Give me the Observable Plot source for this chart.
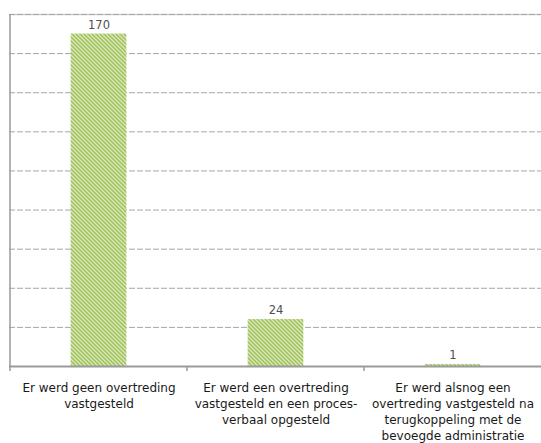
<!DOCTYPE html>
<html>
<head>
<meta charset="utf-8">
<script src="https://cdn.jsdelivr.net/npm/d3@7"></script>
<script src="https://cdn.jsdelivr.net/npm/@observablehq/plot@0.6"></script>
<style>
  html, body { margin: 0; padding: 0; background: #fff; }
  #chart svg { display: block; }
</style>
</head>
<body>
<div id="chart"></div>
<script>
const categories = [
  "Er werd geen overtreding vastgesteld",
  "Er werd een overtreding vastgesteld en een proces-verbaal opgesteld",
  "Er werd alsnog een overtreding vastgesteld na terugkoppeling met de bevoegde administratie"
];
const tickLabels = [
  "Er werd geen overtreding\nvastgesteld",
  "Er werd een overtreding\nvastgesteld en een proces-\nverbaal opgesteld",
  "Er werd alsnog een\novertreding vastgesteld na\nterugkoppeling met de\nbevoegde administratie"
];
const values = [170, 24, 1];
const gridValues = [20, 40, 60, 80, 100, 120, 140, 160, 180];

const data = categories.map((c, i) => ({cat: c, value: values[i], label: tickLabels[i]}));

const W = 541, H = 443;
const mL = 9, mR = 0, mT = 14, mB = 77;
const step = (W - mL - mR) / categories.length;
const barW = 56;
const inset = (step - barW) / 2;

const chart = Plot.plot({
  width: W,
  height: H,
  marginLeft: mL,
  marginRight: mR,
  marginTop: mT,
  marginBottom: mB,
  style: {fontFamily: "'DejaVu Sans', sans-serif", background: "#fff"},
  x: {type: "band", domain: categories, padding: 0, axis: null},
  y: {domain: [0, 180], axis: null},
  marks: [
    Plot.ruleY([180], {stroke: "#d0d0d0", strokeWidth: 1.5}),
    Plot.ruleY(gridValues, {stroke: "#a6a6a6", strokeWidth: 1, strokeDasharray: "6,2"}),
    Plot.barY(data, {x: "cat", y: "value", fill: "url(#hatch)", insetLeft: inset, insetRight: inset}),
    Plot.ruleY([0], {stroke: "#9a9a9a", strokeWidth: 2}),
    Plot.text(data, {x: "cat", y: "value", text: d => String(d.value), dy: -9, fontSize: 11.5, fill: "#505050", fontFamily: "'DejaVu Sans', sans-serif"}),
    Plot.text(data, {x: "cat", y: 0, text: "label", lineAnchor: "top", dy: 14, fontSize: 12, lineHeight: 1.33, fill: "#1a1a1a", fontFamily: "'DejaVu Sans', sans-serif"})
  ]
});

// hatch pattern
const svg = d3.select(chart);
const defs = svg.insert("defs", ":first-child");
const pat = defs.append("pattern")
  .attr("id", "hatch").attr("patternUnits", "userSpaceOnUse")
  .attr("width", 4).attr("height", 4);
pat.append("rect").attr("width", 4).attr("height", 4).attr("fill", "#9fc157");
pat.append("path")
  .attr("d", "M-1,-1 L5,5 M3,-1 L5,1 M-1,3 L1,5")
  .attr("stroke", "#dbe9c0").attr("stroke-width", 1.3);

// left axis line and category boundary ticks, positioned from the plot's scales
const xs = chart.scale("x");
const ys = chart.scale("y");
const yTop = ys.apply(180), yBase = ys.apply(0);
const g = svg.append("g").attr("stroke", "#9a9a9a");
const starts = categories.map(c => xs.apply(c));
g.append("line").attr("x1", starts[0]).attr("x2", starts[0])
  .attr("y1", yTop).attr("y2", yBase + 5).attr("stroke-width", 1.5);
starts.slice(1).forEach(x => {
  g.append("line").attr("x1", x).attr("x2", x)
    .attr("y1", yBase).attr("y2", yBase + 5).attr("stroke-width", 1.5);
});

document.getElementById("chart").appendChild(chart);
</script>
</body>
</html>
